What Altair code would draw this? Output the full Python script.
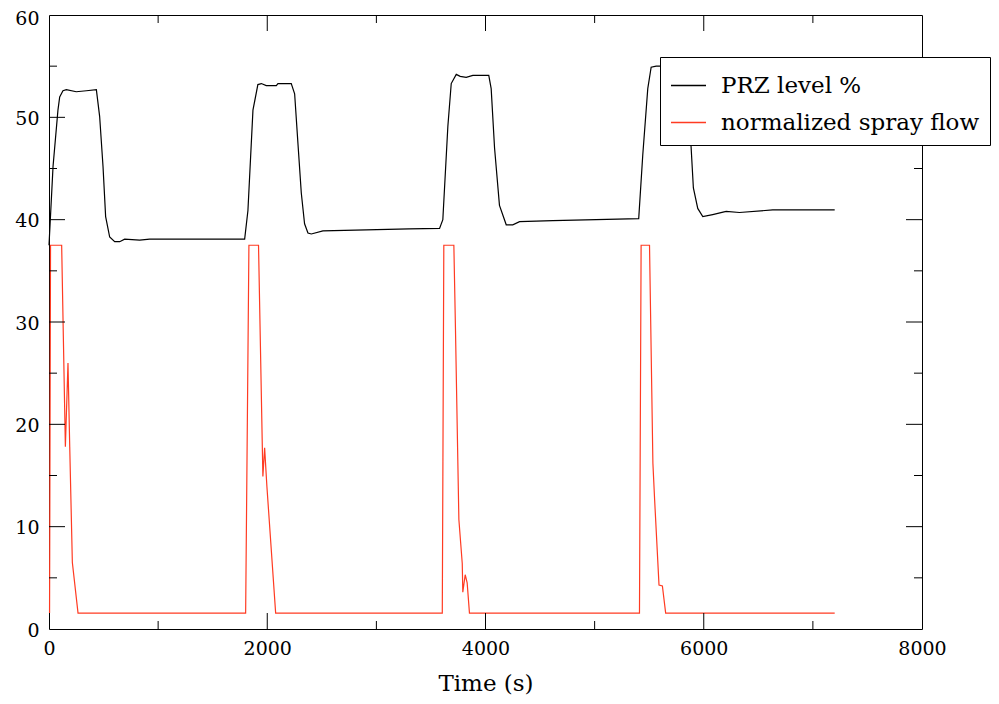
import altair as alt
import pandas as pd

FONT = "DejaVu Serif"

# PRZ level (%) vs time (s)
prz_time = [0, 37, 82, 98, 128, 159, 250, 343, 434, 464, 495, 519, 556, 602, 648, 693, 831, 922, 1400, 1793,
            1823, 1869, 1914, 1946, 1991, 2083, 2098, 2220, 2251, 2281, 2312, 2342, 2373, 2404, 2510, 2907, 3300, 3579, 3609, 3655,
            3686, 3732, 3768, 3823, 3884, 4030, 4052, 4083, 4128, 4190, 4250, 4312, 4617, 5014, 5404, 5441, 5487, 5518, 5564, 5700,
            5831, 5853, 5884, 5905, 5945, 5991, 6082, 6205, 6327, 6632, 7200]
prz_level = [37.5, 45.2, 50.7, 52.0, 52.6, 52.7, 52.5, 52.6, 52.7, 50.1, 45.2, 40.3, 38.3, 37.85, 37.85, 38.1, 38.0, 38.1, 38.1, 38.1,
             40.9, 50.7, 53.2, 53.3, 53.1, 53.1, 53.3, 53.3, 52.3, 47.5, 42.6, 39.6, 38.7, 38.6, 38.9, 39.0, 39.1, 39.15, 40.0, 49.1,
             53.3, 54.2, 54.0, 53.9, 54.1, 54.1, 52.8, 47.0, 41.4, 39.5, 39.5, 39.8, 39.9, 40.0, 40.1, 46.3, 52.8, 54.9, 55.0, 55.0,
             55.0, 52.8, 47.1, 43.1, 41.1, 40.3, 40.5, 40.8, 40.7, 40.95, 40.95]

# normalized spray flow vs time (s)
spray_time = [5, 14, 116, 150, 174, 190, 214, 266,
              1802, 1832, 1920, 1960, 1976, 1997, 2077,
              3604, 3618, 3710, 3725, 3756, 3787, 3792, 3814, 3832, 3853,
              5411, 5426, 5503, 5534, 5550, 5590, 5621, 5651, 7200]
spray_flow = [1.56, 37.5, 37.5, 17.8, 26.0, 17.8, 6.5, 1.56,
              1.56, 37.5, 37.5, 14.9, 17.7, 13.9, 1.56,
              1.56, 37.5, 37.5, 29.2, 10.7, 6.4, 3.6, 5.3, 4.5, 1.56,
              1.56, 37.5, 37.5, 16.2, 12.6, 4.3, 4.2, 1.56, 1.56]

series_names = ["PRZ level %", "normalized spray flow"]
series_colors = ["#000000", "#ff3b22"]

x_labels = [0, 2000, 4000, 6000, 8000]
y_labels = [0, 10, 20, 30, 40, 50, 60]
x_major = [2000, 4000, 6000]
x_minor = [1000, 3000, 5000, 7000]
y_major = [10, 20, 30, 40, 50]
y_minor = [5, 15, 25, 35, 45, 55]

W, H = 873, 614
MAJ, MIN = 16, 8

df = pd.concat([
    pd.DataFrame({"time": prz_time, "value": prz_level, "series": series_names[0]}),
    pd.DataFrame({"time": spray_time, "value": spray_flow, "series": series_names[1]}),
], ignore_index=True)

xs = alt.Scale(domain=[0, 8000], nice=False, zero=False)
ys = alt.Scale(domain=[0, 60], nice=False, zero=False)
x_axis = alt.Axis(values=x_labels, title="Time (s)", format="d", labelFlush=False)
y_axis = alt.Axis(values=y_labels, title=None, format="d", labelFlush=False,
                  labelOffset={"condition": {"test": "datum.value >= 60", "value": 3}, "value": 1})

lines = alt.Chart(df).mark_line(strokeWidth=1.2).encode(
    x=alt.X("time:Q", scale=xs, axis=x_axis),
    y=alt.Y("value:Q", scale=ys, axis=y_axis),
    color=alt.Color("series:N",
                    scale=alt.Scale(domain=series_names, range=series_colors),
                    legend=alt.Legend(title=None, orient="none", legendX=611, legendY=42,
                                      strokeColor="black", fillColor="white", padding=10,
                                      symbolType="stroke", symbolSize=1225, symbolStrokeWidth=1.5,
                                      labelFont=FONT, labelFontSize=23, labelColor="black",
                                      labelOffset=14, rowPadding=6, labelLimit=400)),
)


def xticks(vals, length, top):
    d = pd.DataFrame({"time": vals})
    if top:
        enc = dict(y=alt.value(0), y2=alt.value(length))
    else:
        enc = dict(y=alt.value(H), y2=alt.value(H - length))
    return alt.Chart(d).mark_rule(color="black", strokeWidth=1).encode(
        x=alt.X("time:Q", scale=xs, axis=x_axis), **enc)


def yticks(vals, length, right):
    d = pd.DataFrame({"value": vals})
    if right:
        enc = dict(x=alt.value(W), x2=alt.value(W - length))
    else:
        enc = dict(x=alt.value(0), x2=alt.value(length))
    return alt.Chart(d).mark_rule(color="black", strokeWidth=1).encode(
        y=alt.Y("value:Q", scale=ys, axis=y_axis), **enc)


ticks = [
    xticks(x_major, MAJ, False), xticks(x_minor, MIN, False),
    xticks(x_major, MAJ, True), xticks(x_minor, MIN, True),
    yticks(y_major, MAJ, False), yticks(y_minor, MIN, False),
    yticks(y_major, MAJ, True), yticks(y_minor, MIN, True),
]

chart = alt.layer(lines, *ticks).properties(
    width=W, height=H,
    autosize=alt.AutoSizeParams(type="none"),
    padding={"left": 41, "top": 7, "right": 69, "bottom": 67},
).configure_view(
    stroke="black", strokeWidth=1
).configure_axis(
    labelFont=FONT, labelFontSize=19, labelColor="black",
    titleFont=FONT, titleFontSize=23, titleFontWeight="normal", titleColor="black",
    domain=False, ticks=False, grid=False, labelPadding=10, titlePadding=14,
)

chart.save("out.html", embed_options={"renderer": "svg", "actions": False})
